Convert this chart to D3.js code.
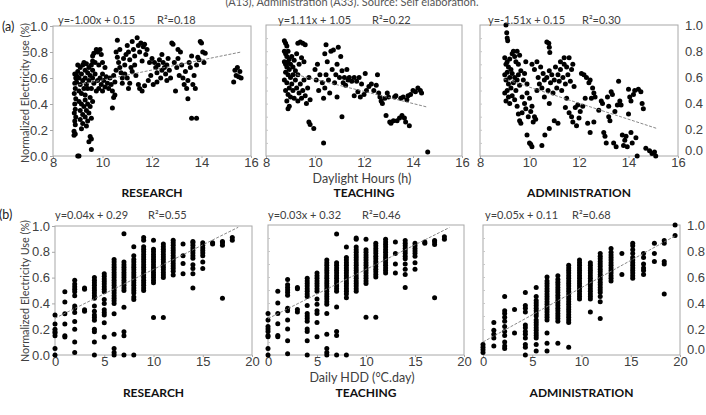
<!DOCTYPE html>
<html>
<head>
<meta charset="utf-8">
<script src="https://cdn.jsdelivr.net/npm/d3@7"></script>
<style>
  body { margin: 0; background: #fff; }
  svg { font-family: Lato, "Open Sans", sans-serif; }
</style>
</head>
<body>
<svg id="chart" width="706" height="415"></svg>
<script>
// ---- data ----

// (a) electricity use vs daylight hours, [hours, normalized use]
const daylightResearch = [
  [8.85,0.16],[8.9,0.17],[8.85,0.19],[8.9,0.24],[8.88,0.27],[8.92,0.3],[8.86,0.33],[8.9,0.36],[8.88,0.4],[8.92,0.44],
  [8.86,0.48],[8.9,0.52],[8.88,0.56],[8.92,0.6],[8.88,0.63],[8.95,0.62],[8.95,0.57],[9.0,0.0],[9.05,0.0],
  [9.0,0.65],[9.05,0.6],[9.1,0.68],[9.1,0.55],[9.15,0.63],[9.2,0.7],[9.2,0.58],[9.25,0.52],[9.3,0.66],[9.3,0.6],
  [9.35,0.71],[9.35,0.55],[9.4,0.64],[9.45,0.58],[9.45,0.68],[9.5,0.62],[9.55,0.7],[9.55,0.52],[9.6,0.6],[9.6,0.66],
  [9.65,0.56],[9.7,0.63],[9.7,0.72],[9.75,0.5],[9.8,0.58],[9.05,0.5],[9.15,0.48],[9.3,0.47],[9.5,0.45],[9.0,0.7],
  [9.25,0.72],[9.4,0.52],[9.6,0.73],
  [9.05,0.42],[9.1,0.35],[9.1,0.28],[9.15,0.4],[9.2,0.32],[9.2,0.25],[9.25,0.38],[9.3,0.43],[9.3,0.3],[9.35,0.35],
  [9.4,0.4],[9.4,0.27],[9.45,0.33],[9.5,0.38],[9.55,0.29],[9.6,0.42],[9.15,0.21],[9.35,0.23],
  [9.5,0.15],[9.45,0.11],[9.55,0.13],[9.55,0.05],
  [9.6,0.77],[9.65,0.79],[9.75,0.82],[9.8,0.8],[9.9,0.82],[9.95,0.78],
  [9.85,0.52],[9.9,0.6],[9.95,0.55],[10.0,0.5],[10.0,0.63],[10.05,0.58],[10.1,0.53],[10.15,0.61],[10.2,0.56],
  [10.25,0.52],[10.3,0.6],[10.35,0.55],[10.4,0.5],[10.45,0.62],[10.5,0.57],[9.85,0.7],[10.0,0.72],[10.1,0.68],
  [10.4,0.37],[10.45,0.45],[10.5,0.47],
  [10.6,0.89],[10.55,0.8],[10.6,0.76],[10.65,0.72],[10.7,0.68],[10.75,0.64],[10.8,0.6],[10.85,0.75],[10.9,0.7],
  [10.95,0.78],[10.7,0.82],[10.8,0.56],[10.55,0.66],[10.9,0.63],
  [11.0,0.85],[11.05,0.8],[11.1,0.74],[11.15,0.68],[11.2,0.88],[11.25,0.82],[11.3,0.77],[11.35,0.62],[11.4,0.91],
  [11.45,0.85],[11.5,0.8],[11.55,0.87],[11.6,0.73],[11.65,0.84],[11.7,0.86],[11.75,0.78],[11.8,0.82],[11.9,0.72],
  [11.0,0.6],[11.1,0.56],[11.2,0.65],[11.45,0.55],[11.5,0.52],[11.6,0.5],[11.7,0.54],[11.85,0.58],[11.95,0.62],
  [11.3,0.7],[11.05,0.52],
  [12.0,0.75],[12.05,0.55],[12.1,0.72],[12.15,0.68],[12.2,0.64],[12.25,0.7],[12.3,0.74],[12.35,0.6],[12.4,0.66],
  [12.45,0.72],[12.5,0.68],[12.55,0.63],[12.6,0.7],[12.65,0.75],[12.7,0.66],[12.75,0.6],[12.8,0.87],[12.85,0.86],
  [12.9,0.72],[12.95,0.5],[12.2,0.57],[12.4,0.78],[12.6,0.58],
  [13.0,0.68],[13.05,0.75],[13.1,0.62],[13.15,0.8],[13.2,0.7],[13.25,0.6],[13.3,0.55],[13.35,0.65],[13.4,0.52],
  [13.45,0.58],[13.5,0.72],[13.55,0.68],[13.6,0.77],[13.65,0.55],[13.7,0.62],[13.75,0.52],[13.8,0.7],[13.85,0.76],
  [13.6,0.29],[13.8,0.29],[13.45,0.44],[13.05,0.82],
  [13.95,0.88],[14.0,0.87],[14.05,0.8],[14.15,0.79],[13.9,0.74],[14.1,0.72],
  [15.3,0.57],[15.35,0.66],[15.4,0.62],[15.45,0.68],[15.5,0.61],[15.55,0.65],[15.6,0.6]
];

const daylightTeaching = [
  [8.75,0.88],[8.8,0.86],[8.85,0.84],[8.75,0.8],[8.8,0.78],[8.85,0.76],[8.9,0.8],[8.95,0.74],[8.75,0.72],[8.8,0.7],
  [8.85,0.68],[8.9,0.72],[8.95,0.66],[9.0,0.7],[9.05,0.76],[9.1,0.68],[9.15,0.73],[9.2,0.65],[8.8,0.64],[8.9,0.62],
  [9.0,0.6],[9.1,0.62],[8.75,0.58],[8.85,0.56],[8.95,0.52],[9.05,0.55],[8.8,0.5],[8.9,0.47],[9.0,0.45],[8.85,0.42],
  [8.95,0.38],[8.9,0.36],[9.3,0.86],[9.4,0.87],[9.5,0.86],[9.6,0.85],[9.25,0.78],[9.35,0.7],[9.45,0.75],[9.55,0.72],
  [9.2,0.58],[9.25,0.52],[9.3,0.62],[9.35,0.48],[9.4,0.55],[9.45,0.44],[9.5,0.5],[9.55,0.58],[9.6,0.46],[9.65,0.4],
  [9.7,0.52],[9.75,0.6],[9.8,0.43],[9.3,0.42],[9.1,0.5],[9.15,0.44],[9.75,0.26],[9.8,0.24],[9.95,0.21],[10.35,0.1],
  [10.45,0.85],[10.4,0.78],[10.5,0.72],[10.0,0.66],[10.05,0.58],[10.1,0.7],[10.15,0.5],[10.2,0.62],[10.3,0.56],
  [10.35,0.44],[10.4,0.52],[10.45,0.62],[10.55,0.58],[10.6,0.48],[10.65,0.8],[10.7,0.66],[10.75,0.81],[10.8,0.56],
  [10.85,0.62],[10.9,0.7],[10.95,0.83],[11.0,0.6],[11.05,0.76],[11.1,0.65],[11.15,0.56],[10.9,0.45],[11.1,0.3],
  [11.2,0.6],[11.25,0.54],[11.3,0.66],[11.35,0.58],[11.4,0.6],[11.5,0.57],[11.6,0.6],[11.7,0.57],[11.8,0.6],
  [11.9,0.55],[11.75,0.49],[11.6,0.46],[11.85,0.45],[12.0,0.47],[12.05,0.63],[12.1,0.5],[12.2,0.53],[12.3,0.55],
  [12.4,0.5],[12.5,0.54],[12.55,0.62],[12.6,0.48],[12.65,0.45],[12.7,0.42],[12.75,0.4],[12.85,0.44],[12.9,0.31],
  [12.95,0.48],[13.0,0.45],[13.05,0.26],[13.1,0.25],[13.2,0.27],[13.25,0.45],[13.3,0.46],[13.35,0.27],[13.45,0.29],
  [13.5,0.44],[13.55,0.31],[13.6,0.45],[13.65,0.29],[13.7,0.26],[13.75,0.43],[13.8,0.46],[13.9,0.47],[14.0,0.5],
  [14.1,0.49],[14.2,0.52],[14.3,0.5],[14.35,0.48],[13.85,0.23],[14.6,0.03]
];

const daylightAdmin = [
  [9.05,1.0],[9.08,0.94],[9.1,0.9],[9.12,0.88],
  [9.0,0.75],[9.05,0.7],[9.1,0.72],[9.15,0.68],[9.2,0.74],[9.25,0.66],[9.3,0.78],[9.35,0.8],[9.4,0.76],[9.45,0.72],
  [9.5,0.8],[9.55,0.7],[9.6,0.77],[9.0,0.62],[9.05,0.58],[9.1,0.64],[9.15,0.55],[9.2,0.6],[9.25,0.52],[9.3,0.63],
  [9.35,0.56],[9.4,0.6],[9.45,0.5],[9.5,0.58],[9.55,0.62],[9.6,0.54],[9.0,0.48],[9.05,0.42],[9.1,0.5],[9.15,0.45],
  [9.2,0.4],[9.3,0.46],[9.4,0.43],[9.5,0.38],[9.55,0.32],[9.6,0.27],[9.65,0.25],[9.7,0.33],[9.7,0.45],[9.75,0.58],
  [9.8,0.4],[9.85,0.36],[9.9,0.48],[9.95,0.3],[9.65,0.65],[9.8,0.63],[9.9,0.55],[9.85,0.72],[10.0,0.44],[10.05,0.34],
  [10.1,0.38],[10.15,0.26],[10.2,0.3],[10.25,0.28],[9.9,0.16],[10.0,0.1],[10.1,0.07],[10.05,0.09],[10.3,0.5],
  [10.35,0.6],[10.4,0.55],[10.45,0.68],[10.5,0.52],[10.55,0.63],[10.6,0.58],[10.2,0.66],[10.1,0.7],[10.3,0.72],
  [10.7,0.87],[10.78,0.86],[10.8,0.83],[10.82,0.79],[10.7,0.6],[10.75,0.5],[10.8,0.65],[10.85,0.56],[10.9,0.62],
  [10.95,0.48],[11.0,0.58],[11.05,0.68],[11.1,0.52],[11.15,0.62],[11.2,0.57],[11.25,0.66],[11.3,0.5],[11.35,0.6],
  [11.4,0.7],[11.45,0.55],[10.6,0.45],[10.8,0.4],[10.5,0.08],[10.62,0.16],[10.8,0.21],[11.0,0.27],[11.15,0.25],
  [11.25,0.72],[11.4,0.75],[11.5,0.68],[11.6,0.75],[11.55,0.62],[11.65,0.57],[11.7,0.66],[11.75,0.7],[11.8,0.53],
  [11.5,0.44],[11.45,0.37],[11.6,0.33],[11.7,0.3],[11.75,0.26],[11.85,0.37],[11.9,0.23],[11.95,0.39],[12.0,0.29],
  [12.05,0.34],[12.1,0.63],[12.15,0.38],[12.2,0.62],[12.25,0.44],[12.3,0.6],[12.35,0.25],[12.4,0.56],[12.45,0.58],
  [12.5,0.44],[12.55,0.52],[12.6,0.48],[12.65,0.45],[12.45,0.18],[12.6,0.26],[12.8,0.35],[12.9,0.42],[12.95,0.4],
  [13.0,0.18],[13.05,0.15],[13.1,0.1],[13.15,0.45],[13.2,0.3],[13.25,0.27],[13.3,0.49],[13.35,0.47],[13.4,0.1],
  [13.45,0.34],[13.5,0.07],[13.6,0.57],[13.65,0.42],[13.7,0.39],[13.75,0.16],[13.8,0.08],[13.85,0.12],[13.9,0.15],
  [13.95,0.07],[14.0,0.51],[14.05,0.45],[14.0,0.32],[14.1,0.18],[14.15,0.1],[14.2,0.47],[14.25,0.5],[14.3,0.14],
  [14.35,0.0],[14.4,0.51],[14.5,0.49],[14.55,0.4],[14.6,0.36],[14.7,0.06],[14.85,0.04],[14.95,0.02],[15.05,0.03],
  [15.1,0.0],[14.1,0.42],[13.55,0.39],[13.2,0.38]
];

// (b) electricity use vs daily HDD, [HDD, [normalized use values in that column]]
const hddResearch = [
  [0,[0.0,0.05,0.15,0.17,0.18,0.2,0.24,0.31]],
  [1,[0.14,0.15,0.24,0.32,0.41,0.49]],
  [2,[0.02,0.1,0.2,0.26,0.33,0.36,0.38,0.46,0.49,0.51,0.53,0.55,0.58]],
  [3,[0.34,0.35,0.51,0.52]],
  [4,[0.0,0.1,0.18,0.2,0.27,0.29,0.31,0.34,0.38,0.44,0.46,0.48,0.5,0.52,0.54,0.56,0.58,0.6]],
  [5,[0.14,0.25,0.31,0.33,0.35,0.4,0.43,0.49,0.51,0.53,0.55,0.57,0.59,0.61,0.63]],
  [6,[0.0,0.02,0.05,0.16,0.32,0.4,0.42,0.44,0.46,0.48,0.5,0.52,0.54,0.56,0.58,0.6,0.62,0.64,0.66,0.68,0.7,0.72,0.74]],
  [7,[0.0,0.15,0.18,0.37,0.5,0.52,0.54,0.56,0.58,0.6,0.62,0.64,0.66,0.68,0.7,0.72,0.94]],
  [8,[0.0,0.43,0.45,0.48,0.5,0.52,0.54,0.56,0.58,0.6,0.62,0.64,0.66,0.68,0.7,0.72,0.74,0.77,0.84]],
  [9,[0.5,0.52,0.54,0.56,0.58,0.6,0.62,0.64,0.66,0.68,0.7,0.72,0.74,0.76,0.78,0.8,0.82,0.84,0.89,0.91]],
  [10,[0.29,0.56,0.58,0.6,0.62,0.64,0.66,0.68,0.7,0.72,0.74,0.76,0.78,0.8,0.82,0.89]],
  [11,[0.29,0.6,0.62,0.64,0.66,0.68,0.7,0.72,0.74,0.76,0.78,0.8,0.82,0.84,0.86]],
  [12,[0.62,0.65,0.67,0.69,0.71,0.73,0.75,0.77,0.79,0.81,0.83,0.85,0.87,0.89]],
  [13,[0.63,0.71,0.77,0.86]],
  [14,[0.52,0.63,0.67,0.7,0.75,0.77,0.79,0.81,0.83,0.85,0.87,0.88]],
  [15,[0.67,0.72,0.77,0.79,0.81,0.83,0.85,0.87]],
  [16,[0.86,0.87]],
  [17,[0.44,0.85,0.87,0.88]],
  [18,[0.89,0.91]]
];

const hddTeaching = [
  [0,[0.0,0.05,0.14,0.15,0.18,0.2,0.22,0.27,0.32]],
  [1,[0.14,0.15,0.24,0.32,0.4,0.49]],
  [2,[0.01,0.11,0.2,0.27,0.34,0.36,0.46,0.48,0.5,0.52,0.54,0.58]],
  [3,[0.33,0.35,0.51,0.52]],
  [4,[0.0,0.11,0.18,0.2,0.26,0.28,0.3,0.32,0.38,0.45,0.47,0.49,0.51,0.53,0.55,0.57,0.59]],
  [5,[0.14,0.25,0.32,0.34,0.39,0.43,0.49,0.51,0.53,0.55,0.57,0.59,0.61,0.63]],
  [6,[0.0,0.02,0.05,0.16,0.32,0.39,0.41,0.43,0.45,0.47,0.49,0.51,0.53,0.55,0.57,0.59,0.61,0.63,0.65,0.67,0.69,0.71,0.73]],
  [7,[0.0,0.15,0.18,0.37,0.49,0.51,0.53,0.55,0.57,0.59,0.61,0.63,0.65,0.67,0.69,0.71,0.93]],
  [8,[0.0,0.44,0.47,0.49,0.51,0.53,0.55,0.57,0.59,0.61,0.63,0.65,0.67,0.69,0.71,0.73,0.75,0.83]],
  [9,[0.49,0.51,0.53,0.55,0.57,0.59,0.61,0.63,0.65,0.67,0.69,0.71,0.73,0.75,0.77,0.79,0.81,0.83,0.89,0.9]],
  [10,[0.29,0.55,0.57,0.59,0.61,0.63,0.65,0.67,0.69,0.71,0.73,0.75,0.77,0.79,0.81,0.89]],
  [11,[0.29,0.6,0.62,0.64,0.66,0.68,0.7,0.72,0.74,0.76,0.78,0.8,0.82,0.84,0.86]],
  [12,[0.63,0.65,0.67,0.69,0.71,0.73,0.75,0.77,0.79,0.81,0.83,0.85,0.87,0.89]],
  [13,[0.63,0.7,0.78,0.87]],
  [14,[0.52,0.62,0.66,0.7,0.74,0.76,0.78,0.8,0.82,0.84,0.86,0.88]],
  [15,[0.66,0.71,0.76,0.78,0.8,0.82,0.84,0.86]],
  [16,[0.86,0.87]],
  [17,[0.44,0.85,0.87,0.88]],
  [18,[0.89,0.91]]
];

const hddAdmin = [
  [0.0,[0.02,0.04,0.06,0.08]],
  [1.1,[0.07,0.13,0.16,0.19,0.25]],
  [2.2,[0.05,0.07,0.1,0.15,0.18,0.22,0.26,0.29,0.32,0.34,0.45]],
  [3.2,[0.17,0.35]],
  [4.3,[0.0,0.06,0.08,0.13,0.16,0.18,0.21,0.23,0.33,0.36,0.38,0.48]],
  [5.4,[0.03,0.08,0.13,0.15,0.17,0.19,0.21,0.23,0.25,0.27,0.3,0.32,0.34,0.36,0.38,0.4,0.42,0.45,0.52]],
  [6.5,[0.03,0.09,0.17,0.27,0.29,0.31,0.33,0.35,0.37,0.39,0.41,0.43,0.45,0.47,0.49,0.51,0.53,0.55,0.57,0.6]],
  [7.6,[0.09,0.26,0.28,0.3,0.32,0.34,0.36,0.38,0.4,0.42,0.44,0.46,0.48,0.5,0.52,0.54,0.56,0.58,0.61]],
  [8.7,[0.06,0.25,0.27,0.29,0.31,0.33,0.35,0.37,0.39,0.41,0.43,0.45,0.47,0.49,0.51,0.53,0.55,0.57,0.59,0.61,0.63,0.65,0.67,0.69]],
  [9.8,[0.43,0.45,0.47,0.49,0.51,0.53,0.55,0.57,0.59,0.61,0.63,0.65,0.67,0.69,0.71,0.73]],
  [10.9,[0.33,0.43,0.45,0.47,0.49,0.51,0.53,0.55,0.57,0.59,0.61,0.63,0.65,0.67,0.69,0.71]],
  [11.9,[0.28,0.41,0.45,0.48,0.5,0.52,0.54,0.56,0.58,0.6,0.62,0.64,0.66,0.68,0.7,0.72,0.74,0.76,0.78]],
  [13.0,[0.57,0.59,0.61,0.63,0.65,0.67,0.69,0.71,0.73,0.75,0.77,0.79,0.82]],
  [14.1,[0.62,0.78]],
  [15.2,[0.59,0.61,0.63,0.65,0.67,0.69,0.71,0.73,0.75,0.78,0.81,0.84,0.86]],
  [16.3,[0.62,0.65,0.67,0.7,0.75,0.78]],
  [17.4,[0.72,0.78,0.86]],
  [18.4,[0.47,0.7,0.72,0.86,0.88]],
  [19.5,[0.92,1.0]]
];

// trend line end points as drawn
const trendDaylightResearch = [[8.85,0.54],[15.6,0.80]];
const trendDaylightTeaching = [[9.25,0.62],[14.55,0.375]];
const trendDaylightAdmin = [[8.95,0.59],[15.15,0.21]];
const trendHddResearch = [[0,0.285],[18.6,0.99]];
const trendHddTeaching = [[0,0.28],[18.5,0.98]];
const trendHddAdmin = [[0,0.10],[19.6,0.92]];

const equations = ["y=-1.00x + 0.15","y=1.11x + 1.05","y=-1.51x + 0.15","y=0.04x + 0.29","y=0.03x + 0.32","y=0.05x + 0.11"];
const rSquared = ["R²=0.18","R²=0.22","R²=0.30","R²=0.55","R²=0.46","R²=0.68"];
const buildings = ["RESEARCH","TEACHING","ADMINISTRATION"];

const daylightTicks = [8,10,12,14,16];
const hddTicks = [0,5,10,15,20];
const useTicks = [0,0.2,0.4,0.6,0.8,1.0];
const minorTicks = [0.1,0.2,0.3,0.4,0.5,0.6,0.7,0.8,0.9];

// ---- drawing ----
const svg = d3.select("#chart");
const flatCols = cols => cols.flatMap(([h, ys]) => ys.map(v => [h, v]));

const panels = [
  {pts: daylightResearch, trend: trendDaylightResearch, xd: [8,16], ticks: daylightTicks, l: 53, r: 251, t: 26, b: 156, side: "left", eq: [58,157,24], row: 0, col: 0},
  {pts: daylightTeaching, trend: trendDaylightTeaching, xd: [8,16], ticks: daylightTicks, l: 266, r: 462, t: 25, b: 156, side: "none", eq: [278,372,24], row: 0, col: 1},
  {pts: daylightAdmin, trend: trendDaylightAdmin, xd: [8,16], ticks: daylightTicks, l: 480, r: 678, t: 25, b: 156, side: "right", eq: [488,582,24], row: 0, col: 2},
  {pts: flatCols(hddResearch), trend: trendHddResearch, xd: [0,20], ticks: hddTicks, l: 55, r: 252, t: 226, b: 355, side: "left", eq: [55,148,219], row: 1, col: 0},
  {pts: flatCols(hddTeaching), trend: trendHddTeaching, xd: [0,20], ticks: hddTicks, l: 268, r: 464, t: 225, b: 355, side: "none", eq: [268,362,219], row: 1, col: 1},
  {pts: flatCols(hddAdmin), trend: trendHddAdmin, xd: [0,20], ticks: hddTicks, l: 483, r: 680, t: 225, b: 355, side: "right", eq: [485,572,219], row: 1, col: 2}
];

const txt = "#404040";

panels.forEach((p, i) => {
  const x = d3.scaleLinear().domain(p.xd).range([p.l, p.r]);
  const y = d3.scaleLinear().domain([0, 1]).range([p.b, p.t]);
  const g = svg.append("g");

  g.append("rect")
    .attr("x", p.l).attr("y", p.t)
    .attr("width", p.r - p.l).attr("height", p.b - p.t)
    .attr("fill", "none").attr("stroke", "#a8a8a8").attr("stroke-width", 1);

  // x axis
  const xa = g.append("g")
    .attr("transform", `translate(0,${p.b})`)
    .call(d3.axisBottom(x).tickValues(p.ticks).tickSize(2).tickPadding(0).tickFormat(d3.format("d")));
  xa.select(".domain").remove();
  xa.selectAll("line").attr("stroke", "#a8a8a8");
  xa.selectAll("text").attr("fill", txt).style("font-size", "13px");

  // y axis
  if (p.side === "left") {
    const ya = g.append("g")
      .attr("transform", `translate(${p.l},0)`)
      .call(d3.axisLeft(y).tickValues(useTicks).tickSize(3).tickPadding(2).tickFormat(d3.format(".1f")));
    ya.select(".domain").remove();
    ya.selectAll("line").attr("stroke", "#a8a8a8");
    ya.selectAll("text").attr("fill", txt).style("font-size", "13px");
  } else {
    const ym = g.append("g")
      .attr("transform", `translate(${p.l},0)`)
      .call(d3.axisLeft(y).tickValues(minorTicks).tickSize(-2).tickFormat(""));
    ym.select(".domain").remove();
    ym.selectAll("line").attr("stroke", "#c8c8c8");
  }
  if (p.side === "right") {
    const yr = g.append("g")
      .attr("transform", `translate(${p.r},0)`)
      .call(d3.axisRight(y).tickValues(useTicks).tickSize(0).tickPadding(7).tickFormat(d3.format(".1f")));
    yr.select(".domain").remove();
    yr.selectAll("text").attr("fill", txt).style("font-size", "13px");
    // the 0.0 label sits a little raised beside the last x label
    yr.selectAll(".tick").filter(d => d === 0).select("text").attr("dy", "-0.1em");
  }

  // points
  g.append("g").selectAll("circle")
    .data(p.pts)
    .join("circle")
      .attr("cx", d => x(d[0]))
      .attr("cy", d => y(d[1]))
      .attr("r", 2.5)
      .attr("fill", "#000");

  // trend line
  g.append("line")
    .attr("x1", x(p.trend[0][0])).attr("y1", y(p.trend[0][1]))
    .attr("x2", x(p.trend[1][0])).attr("y2", y(p.trend[1][1]))
    .attr("stroke", "#7a7a7a").attr("stroke-width", 0.9)
    .attr("stroke-dasharray", "3,1.5");

  // equation and R2
  g.append("text").attr("x", p.eq[0]).attr("y", p.eq[2])
    .attr("fill", txt).style("font-size", "11px").text(equations[i]);
  g.append("text").attr("x", p.eq[1]).attr("y", p.eq[2])
    .attr("fill", txt).style("font-size", "11px").text(rSquared[i]);

  // building name
  g.append("text")
    .attr("x", (p.l + p.r) / 2)
    .attr("y", p.row === 0 ? 197 : 397)
    .attr("text-anchor", "middle")
    .attr("fill", "#111").style("font-size", "12px").style("font-weight", "bold")
    .text(buildings[p.col]);
});

// axis titles and panel letters
svg.append("text").attr("x", 362).attr("y", 183).attr("text-anchor", "middle")
  .attr("fill", txt).style("font-size", "12.5px").text("Daylight Hours (h)");
svg.append("text").attr("x", 362).attr("y", 382).attr("text-anchor", "middle")
  .attr("fill", txt).style("font-size", "12.5px").text("Daily HDD (°C.day)");

svg.append("text").attr("transform", "translate(29,93) rotate(-90)")
  .attr("text-anchor", "middle").attr("fill", txt).style("font-size", "12px")
  .attr("textLength", 140).attr("lengthAdjust", "spacingAndGlyphs")
  .text("Normalized Electricity use  (%)");
svg.append("text").attr("transform", "translate(29,291) rotate(-90)")
  .attr("text-anchor", "middle").attr("fill", txt).style("font-size", "12px")
  .attr("textLength", 142).attr("lengthAdjust", "spacingAndGlyphs")
  .text("Normalized Electricity Use  (%)");

svg.append("text").attr("x", 2).attr("y", 31).attr("fill", "#222").style("font-size", "12.5px").text("(a)");
svg.append("text").attr("x", -1).attr("y", 219).attr("fill", "#222").style("font-size", "12.5px").text("(b)");

// caption cut at the top edge
svg.append("text").attr("x", 352).attr("y", 6).attr("text-anchor", "middle")
  .attr("fill", "#555").style("font-size", "11px")
  .text("(A13), Administration (A33). Source: Self elaboration.");
</script>
</body>
</html>
